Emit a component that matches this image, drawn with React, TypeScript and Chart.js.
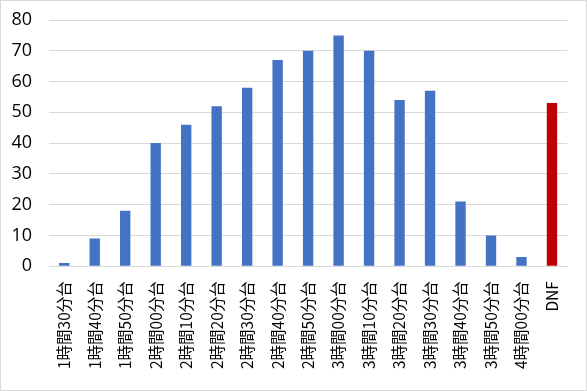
import React, { useEffect, useRef } from "react";
import { Chart, registerables } from "chart.js";

Chart.register(...registerables);

const categories = [
  "1時間30分台", "1時間40分台", "1時間50分台", "2時間00分台", "2時間10分台",
  "2時間20分台", "2時間30分台", "2時間40分台", "2時間50分台", "3時間00分台",
  "3時間10分台", "3時間20分台", "3時間30分台", "3時間40分台", "3時間50分台",
  "4時間00分台", "DNF",
];
const counts = [1, 9, 18, 40, 46, 52, 58, 67, 70, 75, 70, 54, 57, 21, 10, 3, 53];
const barColors = [
  "#4472C4", "#4472C4", "#4472C4", "#4472C4", "#4472C4", "#4472C4", "#4472C4",
  "#4472C4", "#4472C4", "#4472C4", "#4472C4", "#4472C4", "#4472C4", "#4472C4",
  "#4472C4", "#4472C4", "#C00000",
];
const yTicks = [0, 10, 20, 30, 40, 50, 60, 70, 80];

export default function App() {
  const ref = useRef<HTMLCanvasElement>(null);
  useEffect(() => {
    if (!ref.current) return;
    const chart = new Chart(ref.current, {
      type: "bar",
      data: {
        labels: categories,
        datasets: [{ data: counts, backgroundColor: barColors, barPercentage: 0.34, categoryPercentage: 1 }],
      },
      options: {
        animation: false,
        responsive: false,
        layout: { padding: { top: 19, right: 14, left: 7, bottom: 6 } },
        plugins: { legend: { display: false }, tooltip: { enabled: false } },
        scales: {
          x: {
            grid: { display: false, drawTicks: false },
            border: { display: true, color: "#d9d9d9" },
            ticks: {
              maxRotation: 90, minRotation: 90, autoSkip: false, padding: 15,
              color: "#000",
              font: { family: "'Noto Sans CJK JP', 'Open Sans', sans-serif", size: 15.5 },
            },
          },
          y: {
            min: 0, max: 80,
            afterBuildTicks: (axis: any) => { axis.ticks = yTicks.map((v) => ({ value: v })); },
            afterFit: (axis: any) => { axis.width = 41; axis.paddingTop = 0; axis.paddingBottom = 0; },
            grid: { color: "#d9d9d9", drawTicks: false },
            border: { display: false },
            ticks: {
              padding: 17, color: "#000",
              font: { family: "'Open Sans', sans-serif", size: 18 },
            },
          },
        },
      },
    });
    return () => chart.destroy();
  }, []);
  return (
    <div style={{ position: "fixed", left: 0, top: 0, width: 587, height: 391, boxSizing: "border-box", border: "1px solid #d9d9d9", background: "#fff" }}>
      <canvas ref={ref} width={585} height={389} style={{ display: "block" }} />
    </div>
  );
}
